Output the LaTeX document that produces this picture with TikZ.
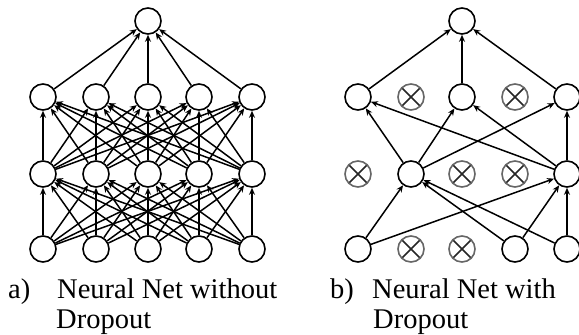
\documentclass[tikz,border=0pt]{standalone}
\usepackage{fontspec}
\setmainfont{Liberation Serif}
\usetikzlibrary{arrows.meta}
\begin{document}
\begin{tikzpicture}[x=1pt,y=-1pt,
  neuron/.style={circle,draw=black,line width=1.6pt,minimum size=26pt,inner sep=0pt,fill=white},
  dropped/.style={circle,draw=black!60,line width=1.6pt,minimum size=26pt,inner sep=0pt,fill=white,
    path picture={\draw[black!85,line width=1.5pt] (path picture bounding box.north west) -- (path picture bounding box.south east)
      (path picture bounding box.north east) -- (path picture bounding box.south west);}},
  conn/.style={line width=1.5pt,-{Stealth[length=7pt,width=6pt]}},
  lbl/.style={anchor=base west,inner sep=0pt,font=\fontsize{28.5}{31}\selectfont}]
\useasboundingbox (0,0) rectangle (579,335);
% ---------- left network ----------
\node[neuron] (Lout) at (148,21) {};
\foreach \i/\x in {0/43,1/96,2/148,3/199,4/252}{
  \node[neuron] (Lh2\i) at (\x,97) {};
  \node[neuron] (Lh1\i) at (\x,174) {};
  \node[neuron] (Lin\i) at (\x,249) {};
}
\foreach \i in {0,...,4}{
  \draw[conn] (Lh2\i) -- (Lout);
  \foreach \j in {0,...,4}{
    \draw[conn] (Lh1\i) -- (Lh2\j);
    \draw[conn] (Lin\i) -- (Lh1\j);
  }
}
% ---------- right network ----------
\node[neuron] (Rout) at (462,21) {};
\node[neuron]  (Rh20) at (358,97) {};
\node[dropped] (Rh21) at (411,97) {};
\node[neuron]  (Rh22) at (462,97) {};
\node[dropped] (Rh23) at (515,97) {};
\node[neuron]  (Rh24) at (567,97) {};
\node[dropped] (Rh10) at (358,174) {};
\node[neuron]  (Rh11) at (411,174) {};
\node[dropped] (Rh12) at (462,174) {};
\node[dropped] (Rh13) at (515,174) {};
\node[neuron]  (Rh14) at (567,174) {};
\node[neuron]  (Rin0) at (358,249) {};
\node[dropped] (Rin1) at (411,249) {};
\node[dropped] (Rin2) at (462,249) {};
\node[neuron]  (Rin3) at (515,249) {};
\node[neuron]  (Rin4) at (567,249) {};
\foreach \a/\b in {Rh20/Rout,Rh22/Rout,Rh24/Rout,
  Rh11/Rh20,Rh11/Rh22,Rh11/Rh24,Rh14/Rh20,Rh14/Rh22,Rh14/Rh24,
  Rin0/Rh11,Rin0/Rh14,Rin3/Rh11,Rin3/Rh14,Rin4/Rh11,Rin4/Rh14}{
  \draw[conn] (\a) -- (\b);
}
% ---------- captions ----------
\node[lbl] (ca) at (8,298) {a)};
\node[lbl] (ta1) at (57,298) {Neural Net without};
\node[lbl] (ta2) at (56,328) {Dropout};
\node[lbl] (cb) at (330,298) {b)};
\node[lbl] (tb1) at (372,298) {Neural Net with};
\node[lbl] (tb2) at (373,328) {Dropout};
\end{tikzpicture}
\end{document}
